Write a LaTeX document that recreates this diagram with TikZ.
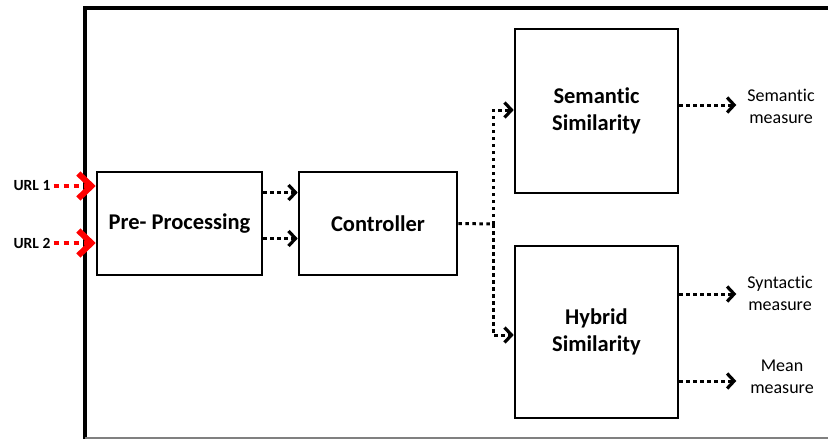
\documentclass[tikz,border=0pt]{standalone}
\usepackage{fontspec}
\setmainfont{Carlito}[Ligatures=NoCommon]
\usetikzlibrary{arrows.meta}
\begin{document}
\begin{tikzpicture}[x=1pt, y=-1pt,
  blockbox/.style={draw, line width=2.6pt, inner sep=0pt, align=center,
    font=\bfseries\fontsize{22.5}{27}\selectfont},
  outlabel/.style={align=center, inner sep=0pt, font=\fontsize{18}{22}\selectfont},
  urllabel/.style={inner sep=0pt, font=\bfseries\fontsize{15.5}{18}\selectfont},
  dotline/.style={line width=3pt, dash pattern=on 3.5pt off 3.5pt},
  dotarrow/.style={dotline, -{Straight Barb[length=7pt,width=15pt,line width=3.2pt]}},
  urlarrow/.style={red, line width=4.5pt, dash pattern=on 5pt off 5pt,
    -{Straight Barb[length=13pt,width=25pt,line width=6pt]}}]
\useasboundingbox (0,0) rectangle (828,439);
% outer frame
\draw[line width=3.4pt] (85,445) -- (85,8) -- (840,8);
\draw[gray, line width=2pt] (85,438) -- (840,438);
% blocks
\node[blockbox, minimum width=165pt, minimum height=103pt] (pre) at (179.5,223.5) {Pre- Processing};
\node[blockbox, minimum width=158pt, minimum height=103pt] (ctrl) at (378,223.5) {Controller};
\node[blockbox, minimum width=163pt, minimum height=164pt] (sem) at (596.5,111) {Semantic\\Similarity};
\node[blockbox, minimum width=163pt, minimum height=172pt] (hyb) at (596.5,332) {Hybrid\\Similarity};
% inputs
\node[urllabel] (url1) at (32,186) {URL 1};
\node[urllabel] (url2) at (32,243) {URL 2};
\draw[urlarrow] ([xshift=3pt]url1.east) -- (url1.east -| pre.west);
\draw[urlarrow] ([xshift=3pt]url2.east) -- (url2.east -| pre.west);
% pre-processing to controller
\draw[dotarrow] ([yshift=31pt]pre.east) -- ([yshift=31pt]ctrl.west);
\draw[dotarrow] ([yshift=-15pt]pre.east) -- ([yshift=-15pt]ctrl.west);
% controller to the two similarity blocks
\coordinate (fork) at (493,224);
\draw[dotline] (ctrl.east) -- (fork);
\draw[dotarrow] (fork) |- ([yshift=1pt]sem.west);
\draw[dotarrow] (fork) |- ([yshift=-3pt]hyb.west);
% outputs
\node[outlabel] (semout) at (781,106) {Semantic\\measure};
\node[outlabel] (synout) at (780,293) {Syntactic\\measure};
\node[outlabel] (meanout) at (782,377) {Mean\\measure};
\draw[dotarrow] ([yshift=6pt]sem.east) -- ++(57,0);
\draw[dotarrow] ([yshift=38pt]hyb.east) -- ++(57,0);
\draw[dotarrow] ([yshift=-49pt]hyb.east) -- ++(57,0);
\end{tikzpicture}
\end{document}
